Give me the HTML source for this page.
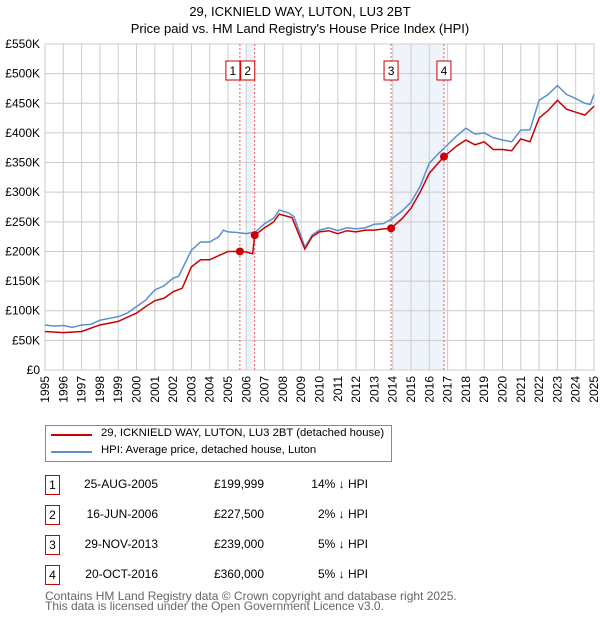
<!DOCTYPE html>
<html><head><meta charset="utf-8">
<style>
body{margin:0;background:#fff;font-family:"Liberation Sans","DejaVu Sans",sans-serif;}
#wrap{position:relative;width:600px;height:620px;overflow:hidden;}
.t{position:absolute;font-size:12px;color:#000;white-space:nowrap;}
.box{position:absolute;border:1px solid #c00;width:13px;height:18px;font-size:12px;text-align:center;line-height:18px;}
</style></head><body>
<div id="wrap">
<div class="t" style="left:0;width:600px;text-align:center;top:4px;font-size:13px">29, ICKNIELD WAY, LUTON, LU3 2BT</div>
<div class="t" style="left:0;width:600px;text-align:center;top:21px;font-size:13px">Price paid vs. HM Land Registry's House Price Index (HPI)</div>
<svg id="chart" width="600" height="420" style="position:absolute;left:0;top:0"></svg>
<div style="position:absolute;left:45px;top:425px;width:345px;height:35px;border:1px solid #888;">
<div><div style="position:absolute;left:5px;top:8px;width:41px;height:2px;background:#c00"></div><div class="t" style="left:55px;top:1px;font-size:11.3px">29, ICKNIELD WAY, LUTON, LU3 2BT (detached house)</div></div>
<div><div style="position:absolute;left:5px;top:25px;width:41px;height:2px;background:#5b8fd0"></div><div class="t" style="left:55px;top:18px;font-size:11.3px">HPI: Average price, detached house, Luton</div></div>
</div>
<div id="rows"></div>
<div class="t" style="left:45px;top:589px;color:#666">Contains HM Land Registry data © Crown copyright and database right 2025.</div>
<div class="t" style="left:45px;top:599px;color:#666">This data is licensed under the Open Government Licence v3.0.</div>
</div>
<script>
const hpiYears=[1995,1995.5,1996,1996.5,1997,1997.5,1998,1998.5,1999,1999.5,
2000,2000.5,2001,2001.5,2002,2002.3,2003,2003.5,2004,2004.5,
2004.75,2005,2005.5,2006,2006.5,2007,2007.5,2007.8,2008.3,2008.6,
2009,2009.2,2009.6,2010,2010.5,2011,2011.5,2012,2012.5,2013,
2013.5,2014,2014.5,2015,2015.5,2016,2016.5,2017,2017.5,2018,
2018.5,2019,2019.5,2020,2020.5,2021,2021.5,2022,2022.5,2023,
2023.5,2024,2024.5,2024.8,2025];
const hpiValues=[76,74,75,72,76,77,84,87,90,96,
107,118,135,142,155,158,202,216,216,225,
236,233,232,230,233,247,256,270,265,259,
225,207,228,236,240,235,240,238,240,246,
247,256,268,283,310,349,365,380,395,408,
398,400,392,388,385,405,405,455,465,480,
465,458,450,448,465];
const redYears=[1995,1996,1997,1998,1999,2000,2000.5,2001,2001.5,2002,
2002.5,2003,2003.5,2004,2004.5,2005,2005.65,2006,2006.35,2006.46,
2007,2007.5,2007.8,2008.5,2009,2009.2,2009.6,2010,2010.5,2011,
2011.5,2012,2012.5,2013,2013.5,2013.91,2014.5,2015,2015.5,2016,
2016.8,2017.5,2018,2018.5,2019,2019.5,2020,2020.5,2021,2021.5,
2022,2022.5,2023,2023.5,2024,2024.5,2025];
const redValues=[65,63,65,76,82,96,107,117,121,132,
138,174,186,186,193,200,200,199,196,227.5,
240,250,263,257,219,204,225,233,235,230,
235,233,236,236,238,239,255,273,300,332,
360,378,388,380,385,372,372,370,390,385,
425,438,455,440,435,430,445];
const saleLabels=["1","2","3","4"];
const saleYears=[2005.65,2006.46,2013.91,2016.8];
const saleValues=[199.999,227.5,239,360];
const saleDates=["25-AUG-2005","16-JUN-2006","29-NOV-2013","20-OCT-2016"];
const salePrices=["£199,999","£227,500","£239,000","£360,000"];
const saleDiffs=["14% ↓ HPI","2% ↓ HPI","5% ↓ HPI","5% ↓ HPI"];
const shadeStarts=[2006.0,2014.0];
const shadeEnds=[2006.46,2016.8];
const yTicks=[0,50,100,150,200,250,300,350,400,450,500,550];
const yTickLabels=["£0","£50K","£100K","£150K","£200K","£250K","£300K","£350K","£400K","£450K","£500K","£550K"];
const xTicks=[1995,1996,1997,1998,1999,2000,2001,2002,2003,2004,2005,2006,2007,2008,2009,2010,2011,2012,2013,2014,2015,2016,2017,2018,2019,2020,2021,2022,2023,2024,2025];

const X0=45,X1=594,Y0=370,Y1=44;
const xs=v=>X0+(v-1995)/30*(X1-X0);
const ys=v=>Y0-v/550*(Y0-Y1);
const svg=document.getElementById('chart');
const NS="http://www.w3.org/2000/svg";
function mk(tag,attrs){const e=document.createElementNS(NS,tag);for(const k in attrs)e.setAttribute(k,attrs[k]);svg.appendChild(e);return e;}
shadeStarts.forEach((s,i)=>{
  const r=mk('rect',{x:xs(s),y:Y1,width:xs(shadeEnds[i])-xs(s),height:Y0-Y1,fill:'#eef3fc'});
  
  
});
yTicks.forEach((t,i)=>{
  const l=mk('line',{x1:X0,x2:X1,y1:ys(t),y2:ys(t),stroke:'#ccc','stroke-width':1});
  
  
  const tx=mk('text',{x:40,y:ys(t)+4,'text-anchor':'end','font-size':12,fill:'#000'});
  
  
  tx.textContent=yTickLabels[i];
});
xTicks.forEach(t=>{
  const l=mk('line',{x1:xs(t),x2:xs(t),y1:Y1,y2:Y0,stroke:'#ccc','stroke-width':1});
  
  
  const tx=mk('text',{x:0,y:0,'text-anchor':'end','font-size':12,fill:'#000',transform:`translate(${xs(t)+4},376) rotate(-90)`});
  
  
  tx.textContent=t;
});
const frame=mk('rect',{x:X0,y:Y1,width:X1-X0,height:Y0-Y1,fill:'none',stroke:'#ccc'});


saleYears.forEach((s,i)=>{
  const l=mk('line',{x1:xs(s),x2:xs(s),y1:Y1,y2:Y0,stroke:'#e55','stroke-width':1,'stroke-dasharray':'2,2'});
  
  
});
const hp=mk('polyline',{points:hpiYears.map((y,i)=>xs(y)+','+ys(hpiValues[i])).join(' '),fill:'none',stroke:'#5b8fd0','stroke-width':1.5});


const rp=mk('polyline',{points:redYears.map((y,i)=>xs(y)+','+ys(redValues[i])).join(' '),fill:'none',stroke:'#c00','stroke-width':1.5});


saleYears.forEach((s,i)=>{
  const c=mk('circle',{cx:xs(s),cy:ys(saleValues[i]),r:4,fill:'#c00'});
  
  
  const x=i<2?xs(s)-14:xs(s)-7;
  const r=mk('rect',{x:x,y:61,width:14,height:19,fill:'#fff',stroke:'#c00','stroke-width':1});
  
  
  const t=mk('text',{x:x+7,y:75,'text-anchor':'middle','font-size':12,fill:'#000'});
  
  
  t.textContent=saleLabels[i];
});
const rows=document.getElementById('rows');
saleLabels.forEach((lab,i)=>{
  const top=475+i*30;
  const d=document.createElement('div');
  
  
  d.innerHTML=`<div class="box" style="left:45px;top:${top}px">${lab}</div>
  <div class="t" style="left:80px;width:78px;text-align:right;top:${top+2}px">${saleDates[i]}</div>
  <div class="t" style="left:200px;width:64px;text-align:right;top:${top+2}px">${salePrices[i]}</div>
  <div class="t" style="left:300px;width:68px;text-align:right;top:${top+2}px">${saleDiffs[i]}</div>`;
  rows.appendChild(d);
});
</script>
</body></html>
